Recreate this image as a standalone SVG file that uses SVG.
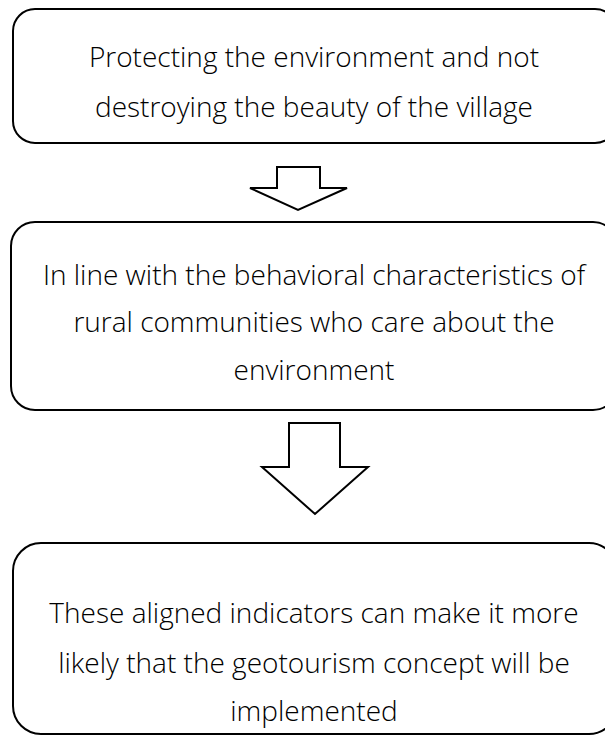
<svg xmlns="http://www.w3.org/2000/svg" width="605" height="736" viewBox="0 0 605 736">
<style>
.box{fill:#fff;stroke:#000;stroke-width:2}
.arr{fill:#fff;stroke:#000;stroke-width:2;stroke-linejoin:miter}
text{font-family:"Open Sans","Noto Sans",sans-serif;font-size:28px;font-weight:300;fill:#000;text-anchor:middle}
</style>
<rect width="605" height="736" fill="#fff"/>
<g id="node1">
<rect class="box" x="13" y="9" width="604" height="134" rx="22" ry="22"/>
<text x="314" y="67">Protecting the environment and not</text>
<text x="314" y="117">destroying the beauty of the village</text>
</g>
<g id="node2">
<rect class="box" x="11" y="222" width="606" height="188" rx="24" ry="24"/>
<text x="314" y="285">In line with the behavioral characteristics of</text>
<text x="314" y="332">rural communities who care about the</text>
<text x="314" y="380">environment</text>
</g>
<g id="node3">
<rect class="box" x="13" y="543" width="604" height="191" rx="28" ry="28"/>
<text x="314" y="623">These aligned indicators can make it more</text>
<text x="314" y="673">likely that the geotourism concept will be</text>
<text x="314" y="721">implemented</text>
</g>
<g id="connectors">
<polygon class="arr" points="277,167 320,167 320,188 347,188 298,210 250,188 277,188"/>
<polygon class="arr" points="289,423 340,423 340,467 368,467 315,514 262,467 289,467"/>
</g>
</svg>
